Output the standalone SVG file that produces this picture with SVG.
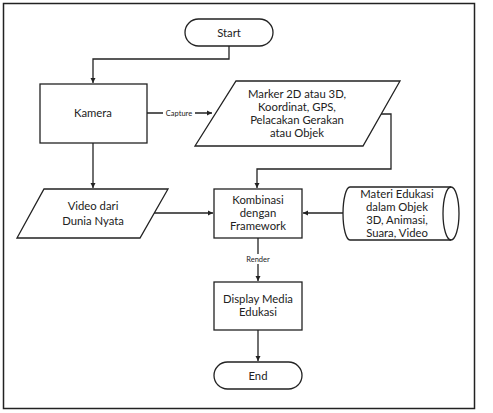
<svg xmlns="http://www.w3.org/2000/svg" width="493" height="413" viewBox="0 0 493 413">
<style>
.s{fill:#fff;stroke:#222;stroke-width:1.3}
.c{fill:none;stroke:#222;stroke-width:1.3}
text{font-family:Lato,"Open Sans",sans-serif;font-size:11.3px;fill:#222;text-anchor:middle}
.l{font-size:7.5px}
</style>
<defs>
<marker id="a" markerWidth="6" markerHeight="6" refX="5" refY="3" orient="auto" markerUnits="userSpaceOnUse">
<path d="M0,0.5 L5,3 L0,5.5 Z" fill="#222"/>
</marker>
</defs>
<rect x="0" y="0" width="493" height="413" fill="#fff"/>
<rect x="3.5" y="3.5" width="471" height="405" fill="none" stroke="#222" stroke-width="1.5"/>
<g id="connectors">
<path class="c" d="M229,46 V59 H93 V83" marker-end="url(#a)"/>
<path class="c" d="M147,113 H212" marker-end="url(#a)"/>
<rect x="163" y="108" width="32" height="10" fill="#fff"/>
<text class="l" x="179" y="116">Capture</text>
<path class="c" d="M381,114 H391 V169 H257 V188" marker-end="url(#a)"/>
<path class="c" d="M93,143 V188" marker-end="url(#a)"/>
<path class="c" d="M154,213 H213" marker-end="url(#a)"/>
<path class="c" d="M343,213 H303" marker-end="url(#a)"/>
<path class="c" d="M258,238 V281" marker-end="url(#a)"/>
<rect x="240" y="254" width="36" height="10" fill="#fff"/>
<text class="l" x="258" y="262">Render</text>
<path class="c" d="M258,330 V361" marker-end="url(#a)"/>
</g>
<g id="start">
<rect class="s" x="185" y="19" width="88" height="27" rx="13.5"/>
<text x="229" y="37">Start</text>
</g>
<g id="kamera">
<rect class="s" x="40" y="84" width="107" height="59"/>
<text x="93" y="117">Kamera</text>
</g>
<g id="marker">
<path class="s" d="M236,81 H400 L363,146 H195 Z"/>
<text x="297" y="97.5">Marker 2D atau 3D,</text>
<text x="297" y="110.5">Koordinat, GPS,</text>
<text x="297" y="123.5">Pelacakan Gerakan</text>
<text x="297" y="136.5">atau Objek</text>
</g>
<g id="video">
<path class="s" d="M44,189 H168 L140,238 H17 Z"/>
<text x="93" y="210">Video dari</text>
<text x="93" y="225">Dunia Nyata</text>
</g>
<g id="kombinasi">
<rect class="s" x="214" y="189" width="88" height="49"/>
<text x="258" y="204">Kombinasi</text>
<text x="258" y="217">dengan</text>
<text x="258" y="230">Framework</text>
</g>
<g id="materi">
<path class="s" d="M350,187 H451 A8,26.5 0 0 1 451,240 H350 A7,26.5 0 0 1 350,187 Z"/>
<path class="c" d="M451,187 A8,26.5 0 0 0 451,240"/>
<text x="397" y="197.5">Materi Edukasi</text>
<text x="397" y="210.5">dalam Objek</text>
<text x="397" y="223.5">3D, Animasi,</text>
<text x="397" y="236.5">Suara, Video</text>
</g>
<g id="display">
<rect class="s" x="214" y="282" width="88" height="48"/>
<text x="258" y="303">Display Media</text>
<text x="258" y="316">Edukasi</text>
</g>
<g id="end">
<rect class="s" x="214" y="362" width="88" height="27" rx="13.5"/>
<text x="258" y="380">End</text>
</g>
</svg>
